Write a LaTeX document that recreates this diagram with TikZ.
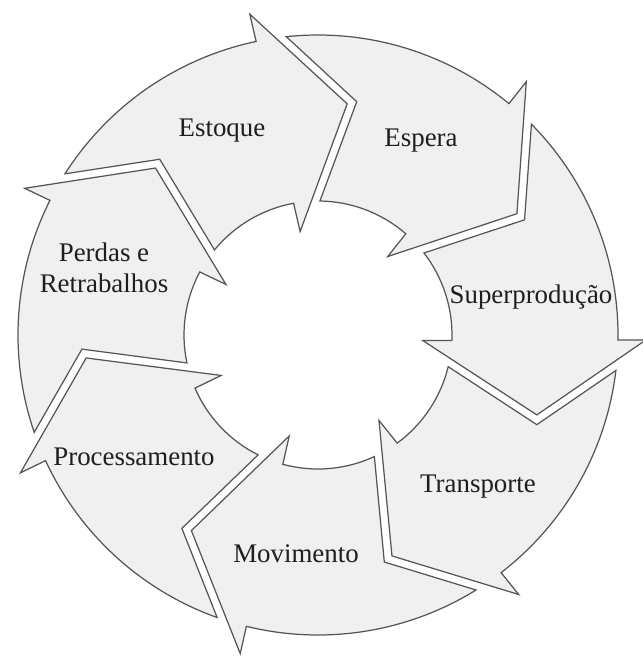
\documentclass[tikz,border=0pt]{standalone}
\usepackage{fontspec}
\setmainfont{Liberation Serif}
\definecolor{segfill}{RGB}{240,240,240}
\definecolor{segline}{RGB}{85,85,85}
\definecolor{segtext}{RGB}{30,30,30}
\tikzset{
  waste/.style={draw=segline, fill=segfill, line width=0.7pt, line join=miter},
  wastelabel/.style={text=segtext, anchor=base, inner sep=0pt,
    font=\fontsize{15.3pt}{17.6pt}\selectfont},
}

\begin{document}
\begin{tikzpicture}
\useasboundingbox (-6.36,-6.46) rectangle (6.48,6.70);
% seven curved arrows, clockwise
\foreach \k in {0,...,6}{
  \pgfmathsetmacro\b{102-51.4286*\k}
  \draw[waste] (\b+45.5:6cm) arc[start angle=\b+45.5, end angle=\b-0.1, radius=6cm]
    -- (\b:6.56cm) -- (\b-19.2:4.66cm) -- (\b-2.2:2.1cm) -- (\b-1.5:2.68cm)
    arc[start angle=\b-1.5, end angle=\b+38.6, radius=2.68cm]
    -- (\b+30:4.73cm) -- cycle;
}
\node[wastelabel] (estoque) at (-1.92,3.96) {Estoque};
\node[wastelabel] (espera) at (2.06,3.76) {Espera};
\node[wastelabel] (superproducao) at (4.26,0.64) {Superprodução};
\node[wastelabel] (transporte) at (3.20,-3.14) {Transporte};
\node[wastelabel] (movimento) at (-0.44,-4.54) {Movimento};
\node[wastelabel] (processamento) at (-3.68,-2.60) {Processamento};
\node[wastelabel, anchor=center, align=center] (perdas) at (-4.28,1.34) {Perdas e\\Retrabalhos};
\end{tikzpicture}
\end{document}
